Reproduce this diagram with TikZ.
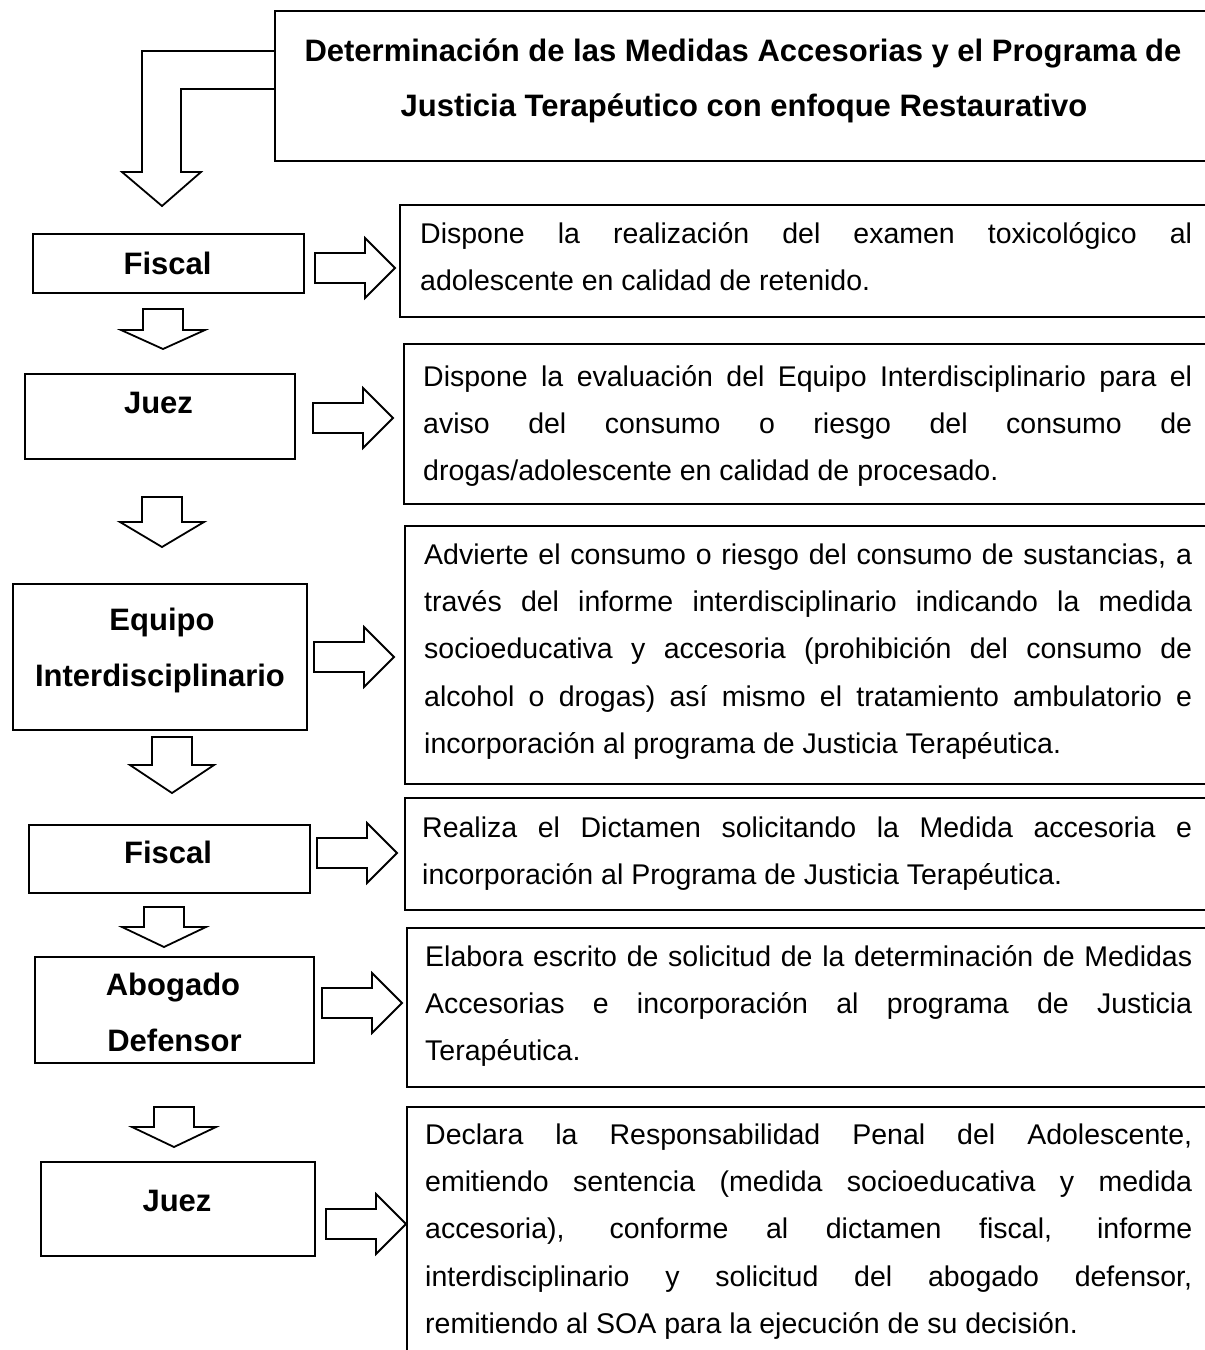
\documentclass[tikz,border=0pt]{standalone}
\usepackage{fontspec}
\setmainfont{Liberation Sans}
\hyphenpenalty=10000
\tolerance=10000

% block arrow pointing right, tip at (#1,#2)
\newcommand{\rtarr}[2]{%
  \draw[blockarrow] (#1-80,#2-15) -- (#1-30,#2-15) -- (#1-30,#2-30) -- (#1,#2)
    -- (#1-30,#2+30) -- (#1-30,#2+15) -- (#1-80,#2+15) -- cycle;}
% block arrow pointing down, tip at (#1,#2), shaft #3, head #4
\newcommand{\dnarr}[4]{%
  \draw[blockarrow] (#1-20,#2-#4-#3) -- (#1+20,#2-#4-#3) -- (#1+20,#2-#4)
    -- (#1+42,#2-#4) -- (#1,#2) -- (#1-42,#2-#4) -- (#1-20,#2-#4) -- cycle;}

\begin{document}
\begin{tikzpicture}[x=1pt,y=-1pt,
    frame/.style={draw,line width=1.8pt,inner sep=0pt,outer sep=0pt},
    blockarrow/.style={draw,line width=1.8pt,fill=white,line join=miter},
    who/.style={font=\fontsize{31}{35}\selectfont\bfseries,inner sep=0pt,anchor=base},
    task/.style={font=\fontsize{28.5}{47.4}\selectfont,inner sep=0pt,anchor=base west,
      align=justify,text width=#1},
    task/.default=770pt]
  \clip (0,0) rectangle (1205,1350);

  % heading
  \node[frame,minimum width=940,minimum height=150] (titel) at (745,86) {};
  \node[who] (titel1) at (743,61) {Determinación de las Medidas Accesorias y el Programa de};
  \node[who] (titel2) at (744,116) {Justicia Terapéutico con enfoque Restaurativo};
  \draw[blockarrow,fill=none] (275,51) -- (142,51) -- (142,172) -- (122,172) -- (162,206)
    -- (201,172) -- (181,172) -- (181,89) -- (275,89);

  % actors
  \node[frame,minimum width=271,minimum height=59] (fiscal1) at (168.5,263.5) {};
  \node[who] (fiscal1txt) at (167.5,274) {Fiscal};
  \node[frame,minimum width=270,minimum height=85] (juez1) at (160,416.5) {};
  \node[who] (juez1txt) at (158.5,413) {Juez};
  \node[frame,minimum width=294,minimum height=146] (equipo) at (160,657) {};
  \node[who] (equipotxt1) at (162,630) {Equipo};
  \node[who] (equipotxt2) at (160,686) {Interdisciplinario};
  \node[frame,minimum width=281,minimum height=68] (fiscal2) at (169.5,859) {};
  \node[who] (fiscal2txt) at (168,863) {Fiscal};
  \node[frame,minimum width=279,minimum height=106] (abogado) at (174.5,1010) {};
  \node[who] (abogadotxt1) at (173,995) {Abogado};
  \node[who] (abogadotxt2) at (174.5,1051) {Defensor};
  \node[frame,minimum width=274,minimum height=94] (juez2) at (178,1209) {};
  \node[who] (juez2txt) at (177,1211) {Juez};

  % what each one does
  \node[frame,minimum width=815,minimum height=112] (paso1) at (807.5,261) {};
  \node[task=772pt] (paso1txt) at (420,243) {Dispone la realización del examen toxicológico al\linebreak
    adolescente en calidad de retenido.};
  \node[frame,minimum width=811,minimum height=160] (paso2) at (809.5,424) {};
  \node[task=769pt] (paso2txt) at (423,386) {Dispone la evaluación del Equipo Interdisciplinario para el\linebreak
    aviso del consumo o riesgo del consumo de\linebreak
    drogas/adolescente en calidad de procesado.};
  \node[frame,minimum width=810,minimum height=258] (paso3) at (810,655) {};
  \node[task=768pt] (paso3txt) at (424,564) {Advierte el consumo o riesgo del consumo de sustancias, a\linebreak
    través del informe interdisciplinario indicando la medida\linebreak
    socioeducativa y accesoria (prohibición del consumo de\linebreak
    alcohol o drogas) así mismo el tratamiento ambulatorio e\linebreak
    incorporación al programa de Justicia Terapéutica.};
  \node[frame,minimum width=810,minimum height=112] (paso4) at (810,854) {};
  \node[task=770pt] (paso4txt) at (422,837) {Realiza el Dictamen solicitando la Medida accesoria e\linebreak
    incorporación al Programa de Justicia Terapéutica.};
  \node[frame,minimum width=808,minimum height=159] (paso5) at (811,1007.5) {};
  \node[task=767pt] (paso5txt) at (425,966) {Elabora escrito de solicitud de la determinación de Medidas\linebreak
    Accesorias e incorporación al programa de Justicia\linebreak
    Terapéutica.};
  \node[frame,minimum width=808,minimum height=293] (paso6) at (811,1253.5) {};
  \node[task=767pt] (paso6txt) at (425,1144) {Declara la Responsabilidad Penal del Adolescente,\linebreak
    emitiendo sentencia (medida socioeducativa y medida\linebreak
    accesoria), conforme al dictamen fiscal, informe\linebreak
    interdisciplinario y solicitud del abogado defensor,\linebreak
    remitiendo al SOA para la ejecución de su decisión.};

  % arrows between the steps
  \dnarr{163}{349}{21}{19}
  \dnarr{162}{547}{25}{25}
  \dnarr{172}{793}{28}{28}
  \dnarr{164}{947}{20}{20}
  \dnarr{174}{1147}{20}{20}
  \rtarr{395}{268}
  \rtarr{393}{418}
  \rtarr{394}{657}
  \rtarr{397}{853}
  \rtarr{402}{1003}
  \rtarr{406}{1224}
\end{tikzpicture}
\end{document}
